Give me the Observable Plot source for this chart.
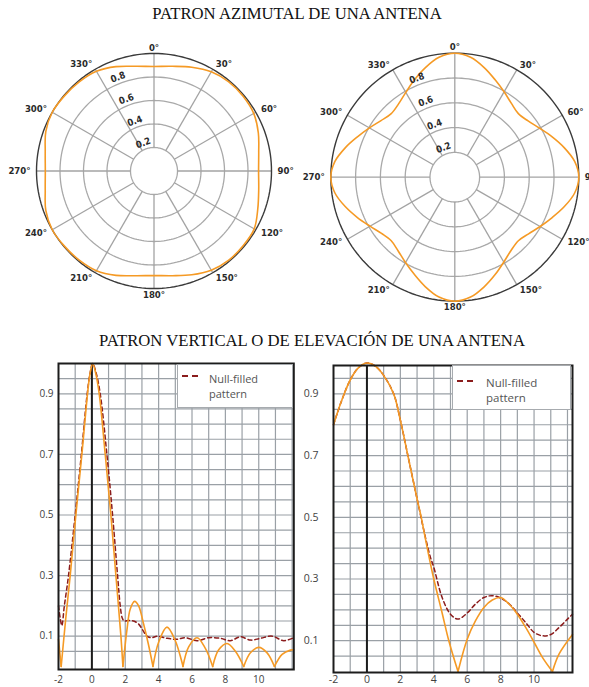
<!DOCTYPE html>
<html><head><meta charset="utf-8">
<script src="https://cdn.jsdelivr.net/npm/d3@7"></script>
<script src="https://cdn.jsdelivr.net/npm/@observablehq/plot@0.6"></script>
<style>
body{margin:0;background:#fff;}
#page{position:relative;width:589px;height:687px;overflow:hidden;background:#fff;font-family:"Open Sans",sans-serif;}
.title{position:absolute;font-family:"Liberation Serif","Times New Roman",serif;font-size:16.7px;color:#111;white-space:nowrap;transform:translateX(-50%);line-height:17px;}
.abs{position:absolute;}
.legend{position:absolute;background:#fff;border:1px solid #a7abaf;box-sizing:border-box;font-family:"Open Sans",sans-serif;color:#555;}
.legend svg{position:absolute;}
.legend .lt{position:absolute;white-space:nowrap;}
</style></head><body>
<div id="page">
  <div class="title" style="left:297px;top:5px">PATRON AZIMUTAL DE UNA ANTENA</div>
  <div class="title" style="left:312px;top:332px">PATRON VERTICAL O DE ELEVACIÓN DE UNA ANTENA</div>
  <div id="polA" class="abs" style="left:0;top:30px"></div>
  <div id="polB" class="abs" style="left:295px;top:30px"></div>
  <div id="elA" class="abs" style="left:0;top:350px"></div>
  <div class="abs" style="left:300px;top:350px;width:289px;height:337px;overflow:hidden"><div id="elB" class="abs" style="left:-20px;top:0"></div></div>
  <div class="legend" style="left:177px;top:364px;width:116px;height:44px">
    <svg width="20" height="4" style="left:4px;top:9px"><line x1="0" y1="2" x2="16" y2="2" stroke="#8b1c1c" stroke-width="1.8" stroke-dasharray="6,4"/></svg>
    <div class="lt" style="left:31px;top:6px;font-size:11px;line-height:15px">Null-filled<br>pattern</div>
  </div>
  <div class="legend" style="left:452px;top:365px;width:119px;height:45px">
    <svg width="20" height="4" style="left:4px;top:13px"><line x1="0" y1="2" x2="16" y2="2" stroke="#8b1c1c" stroke-width="1.8" stroke-dasharray="6,4"/></svg>
    <div class="lt" style="left:33px;top:10px;font-size:11.5px;line-height:14.5px">Null-filled<br>pattern</div>
  </div>
</div>
<script>
// ---------- Azimuth patterns ----------
const azAnglesA = [0,10,20,30,40,50,60,70,80,90,100,110,120,130,140,150,160,170,180,190,200,210,220,230,240,250,260,270,280,290,300,310,320,330,340,350];
const azValuesA = [0.89,0.905,0.94,0.975,0.99,0.99,0.98,0.945,0.905,
                   0.89,0.905,0.94,0.985,0.99,0.99,0.975,0.94,0.905,
                   0.89,0.905,0.945,0.98,0.99,0.995,1.0,0.98,0.94,
                   0.925,0.94,0.98,1.0,0.995,0.99,0.98,0.945,0.905];
const azAnglesB = [0,7.5,15,22.5,30,37.5,45,52.5,60,67.5,75,82.5,90,97.5,105,112.5,120,127.5,135,142.5,150,157.5,165,172.5,
                   180,187.5,195,202.5,210,217.5,225,232.5,240,247.5,255,262.5,270,277.5,285,292.5,300,307.5,315,322.5,330,337.5,345,352.5];
const azValuesB = [1.0,0.975,0.915,0.85,0.795,0.75,0.725,0.745,0.79,0.85,0.915,0.975,
                   1.0,0.975,0.915,0.85,0.795,0.75,0.725,0.745,0.79,0.85,0.915,0.975,
                   1.0,0.975,0.915,0.85,0.795,0.75,0.725,0.745,0.79,0.85,0.915,0.975,
                   1.0,0.975,0.915,0.85,0.795,0.75,0.725,0.745,0.79,0.85,0.915,0.975];
const ringValues = [0.2,0.4,0.6,0.8];
const spokeAngles = [0,30,60,90,120,150,180,210,240,270,300,330];
const degreeLabels = ["0°","30°","60°","90°","120°","150°","180°","210°","240°","270°","300°","330°"];

// ---------- Elevation patterns ----------
const elevTicksX = [-2,0,2,4,6,8,10];
const elevTicksY = [0.1,0.3,0.5,0.7,0.9];
const gridX = [-1,0,1,2,3,4,5,6,7,8,9,10,11,12];
const gridY = [0.05,0.1,0.15,0.2,0.25,0.3,0.35,0.4,0.45,0.5,0.55,0.6,0.65,0.7,0.75,0.8,0.85,0.9,0.95];

const solidAx = [-2,-1.84,-1.58,-1.3,-0.96,-0.6,-0.26,-0.1,0.05,0.22,0.44,0.8,1.14,1.44,1.74,1.86,2.1,2.3,2.56,2.8,3.1,3.4,3.66,4.0,4.5,5.0,5.46,5.8,6.3,6.8,7.24,7.6,8.1,8.6,9.1,9.5,10.0,10.5,10.94,11.4,11.9,12.1];
const solidAy = [0.09,0,0.15,0.3,0.5,0.7,0.9,0.97,1.0,0.97,0.9,0.7,0.5,0.3,0.1,0,0.12,0.19,0.215,0.2,0.14,0.07,0,0.08,0.13,0.085,0,0.065,0.095,0.06,0,0.055,0.076,0.05,0,0.045,0.063,0.045,0,0.04,0.054,0.055];
const dashAx = [-2,-1.9,-1.8,-1.65,-1.4,-1.0,-0.63,-0.28,-0.1,0.05,0.25,0.5,0.9,1.24,1.54,1.7,1.82,1.94,2.2,2.5,2.8,3.05,3.3,3.6,3.9,4.5,5.1,5.6,6.3,7.0,7.7,8.3,8.9,9.5,10.1,10.8,11.5,12.1];
const dashAy = [0.2,0.16,0.135,0.2,0.3,0.5,0.7,0.9,0.97,1.0,0.97,0.9,0.7,0.5,0.3,0.2,0.16,0.15,0.152,0.15,0.14,0.12,0.1,0.095,0.1,0.093,0.09,0.095,0.085,0.095,0.093,0.085,0.098,0.087,0.093,0.1,0.085,0.095];

const solidBx = [-2,-1.5,-1,-0.5,0,0.5,1,1.6,2,2.45,3,3.25,3.5,4.0,4.5,4.9,5.45,6,6.5,7,7.5,8,8.5,9,9.5,10,10.5,11.1,11.5,12.3];
const solidBy = [0.8,0.88,0.945,0.985,1.0,0.99,0.96,0.9,0.815,0.7,0.56,0.5,0.43,0.3,0.19,0.1,0,0.105,0.165,0.208,0.232,0.24,0.219,0.186,0.143,0.095,0.046,0,0.057,0.12];
const dashBx = [-2,-1.5,-1,-0.5,0,0.5,1,1.6,2,2.45,3,3.5,3.8,4.0,4.5,5.0,5.45,6,6.5,7,7.5,8,8.5,9,9.5,10,10.5,11,11.5,12,12.3];
const dashBy = [0.8,0.88,0.945,0.985,1.0,0.99,0.96,0.9,0.815,0.7,0.56,0.435,0.37,0.338,0.24,0.186,0.17,0.19,0.219,0.24,0.246,0.238,0.22,0.19,0.159,0.127,0.116,0.12,0.143,0.17,0.186];

const ORANGE = "#f59a25";
const DRED = "#8b1c1c";
const GRID = "#9aa0a6";
const NARROW = "'Liberation Sans Narrow','DejaVu Sans Condensed','Roboto',sans-serif";
const DEG = Math.PI / 180;
const sx = (a, r) => r * Math.sin(a * DEG);
const sy = (a, r) => r * Math.cos(a * DEG);

function polarPlot(angles, values, {width, height, cx, cy, R}) {
  const pattern = angles.map((a, i) => ({x: sx(a, values[i]), y: sy(a, values[i])}));
  const circ = d3.range(0, 361, 2);
  const ringPts = ringValues.flatMap(v => circ.map(a => ({ring: v, x: sx(a, v), y: sy(a, v)})));
  const outer = circ.map(a => ({x: sx(a, 1), y: sy(a, 1)}));
  const labs = spokeAngles.map((a, i) => ({a, text: degreeLabels[i]}));
  const off = 1 + 6 / R;
  const tOpt = {fontSize: 9.5, fontWeight: "bold", fontFamily: NARROW, fill: "#2a2a2a", lineAnchor: "middle"};
  const lx = d => sx(d.a, off), ly = d => sy(d.a, off);
  return Plot.plot({
    width, height, margin: 0,
    x: {domain: [-1, 1], range: [cx - R, cx + R], axis: null},
    y: {domain: [-1, 1], range: [cy + R, cy - R], axis: null},
    style: {background: "none", maxWidth: "none", overflow: "visible"},
    marks: [
      Plot.line(ringPts, {x: "x", y: "y", z: "ring", stroke: "#a9a9a9", strokeWidth: 1.3}),
      Plot.link(spokeAngles, {x1: a => sx(a, 0.2), y1: a => sy(a, 0.2), x2: a => sx(a, 1), y2: a => sy(a, 1), stroke: "#a3a3a3", strokeWidth: 1.3}),
      Plot.line(outer, {x: "x", y: "y", stroke: "#3a3a3a", strokeWidth: 1.4}),
      Plot.line(pattern, {x: "x", y: "y", curve: "catmull-rom-closed", stroke: ORANGE, strokeWidth: 1.6}),
      Plot.text(labs.filter(d => d.a % 180 === 0), {x: lx, y: ly, text: "text", textAnchor: "middle", ...tOpt}),
      Plot.text(labs.filter(d => d.a > 0 && d.a < 180), {x: lx, y: ly, text: "text", textAnchor: "start", ...tOpt}),
      Plot.text(labs.filter(d => d.a > 180), {x: lx, y: ly, text: "text", textAnchor: "end", ...tOpt}),
      Plot.text(ringValues, {x: v => sx(339, v + 0.055), y: v => sy(339, v + 0.055), text: v => v.toFixed(1), rotate: -20, ...tOpt})
    ]
  });
}

function splitLobes(xs, ys) {
  const out = []; let seg = 0;
  xs.forEach((x, i) => {
    out.push({x, y: ys[i], seg});
    if (ys[i] === 0 && i > 0 && i < xs.length - 1) { seg++; out.push({x, y: 0, seg}); }
  });
  return out;
}

function elevPlot({solidX, solidY, dashX, dashY, width, height, mL, mR, mT, mB, xMax, yDom, yPad, xPad, fs}) {
  const solid = splitLobes(solidX, solidY);
  const dash = dashX.map((x, i) => ({x, y: dashY[i]}));
  return Plot.plot({
    width, height, marginLeft: mL, marginRight: mR, marginTop: mT, marginBottom: mB,
    x: {domain: [-2, xMax], ticks: elevTicksX, tickSize: 0, tickPadding: xPad, tickFormat: d => String(d), label: null},
    y: {domain: yDom, ticks: elevTicksY, tickSize: 0, tickPadding: yPad, tickFormat: d => d.toFixed(1), label: null},
    style: {background: "none", maxWidth: "none", overflow: "visible", fontFamily: "'Open Sans',sans-serif", fontSize: fs + "px", color: "#3f3f3f"},
    marks: [
      Plot.ruleX(gridX, {stroke: GRID, strokeWidth: 1.2}),
      Plot.ruleY(gridY, {stroke: GRID, strokeWidth: 1.2}),
      Plot.ruleX([0], {stroke: "#1c1c1c", strokeWidth: 2}),
      Plot.line(dash, {x: "x", y: "y", curve: "catmull-rom", stroke: DRED, strokeWidth: 1.5, strokeDasharray: "4,3"}),
      Plot.line(solid, {x: "x", y: "y", z: "seg", curve: "catmull-rom", stroke: ORANGE, strokeWidth: 1.6}),
      Plot.frame({stroke: "#1c1c1c", strokeWidth: 2})
    ]
  });
}

document.getElementById("polA").append(polarPlot(azAnglesA, azValuesA, {width: 300, height: 290, cx: 153.5, cy: 140.5, R: 117.5}));
document.getElementById("polB").append(polarPlot(azAnglesB, azValuesB, {width: 294, height: 290, cx: 159.3, cy: 146.7, R: 124}));
document.getElementById("elA").append(elevPlot({solidX: solidAx, solidY: solidAy, dashX: dashAx, dashY: dashAy,
  width: 300, height: 337, mL: 58, mR: 6.7, mT: 13, mB: 18, xMax: 12.1, yDom: [-0.01, 1], yPad: 5, xPad: 6, fs: 10}));
document.getElementById("elB").append(elevPlot({solidX: solidBx, solidY: solidBy, dashX: dashBx, dashY: dashBy,
  width: 309, height: 337, mL: 53, mR: 17, mT: 15, mB: 15, xMax: 12.3, yDom: [-0.003, 0.992], yPad: 15, xPad: 3, fs: 10.5}));
</script>
</body></html>
